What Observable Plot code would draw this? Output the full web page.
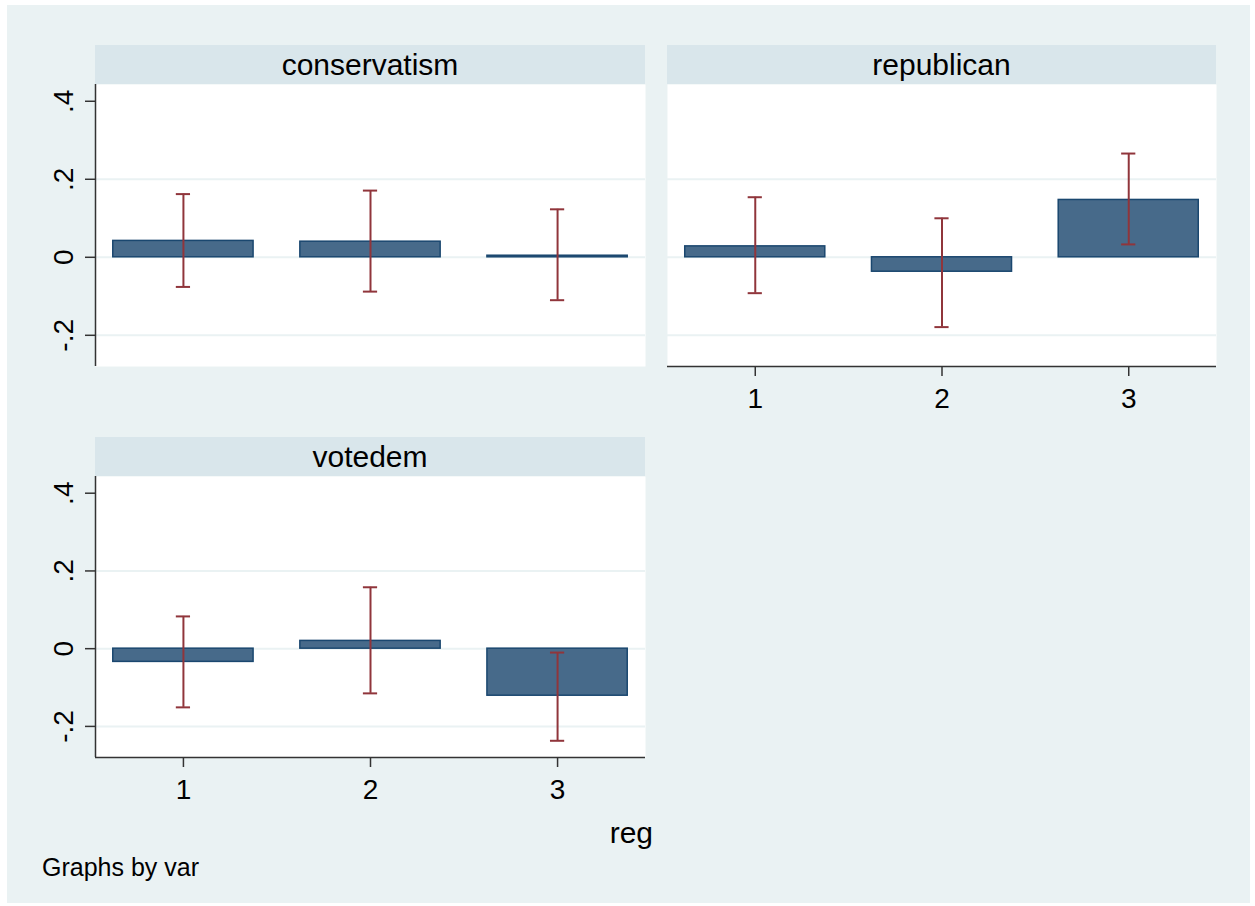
<!DOCTYPE html>
<html><head><meta charset="utf-8">
<script src="https://cdn.jsdelivr.net/npm/d3@7"></script>
<script src="https://cdn.jsdelivr.net/npm/@observablehq/plot@0.6"></script>
<style>
body{margin:0;background:#fff;font-family:"Liberation Sans",Arial,sans-serif;}
#wrap{position:relative;width:1255px;height:906px;overflow:hidden;background:#fff}
#bg{position:absolute;left:7px;top:5px;width:1243px;height:898px;background:#EAF2F3}
.hdr{position:absolute;height:39px;line-height:39px;background:#D9E6EB;text-align:center;font-size:30px;color:#000;white-space:nowrap}
.panel{position:absolute}
.lbl{position:absolute;color:#000;white-space:nowrap;line-height:1}
</style></head><body>
<div id="wrap"><div id="bg"></div></div>
<script>
// ---- data ----
const vars = ["conservatism", "republican", "votedem"];
const regs = [1, 2, 3];
const conservatismB  = [0.042, 0.040, 0.004];
const conservatismLo = [-0.076, -0.088, -0.110];
const conservatismHi = [0.162, 0.171, 0.123];
const republicanB  = [0.028, -0.037, 0.147];
const republicanLo = [-0.092, -0.179, 0.033];
const republicanHi = [0.154, 0.100, 0.266];
const votedemB  = [-0.034, 0.020, -0.121];
const votedemLo = [-0.151, -0.115, -0.237];
const votedemHi = [0.083, 0.158, -0.010];
const yTicks = [-0.2, 0, 0.2, 0.4];
const yTickLabels = ["-.2", "0", ".2", ".4"];
const yGrid = [-0.2, 0, 0.2];
const xLabel = "reg";
const noteText = "Graphs by var";

const series = {
  conservatism: [conservatismB, conservatismLo, conservatismHi],
  republican: [republicanB, republicanLo, republicanHi],
  votedem: [votedemB, votedemLo, votedemHi]
};
function rows(v) {
  const [b, lo, hi] = series[v];
  return regs.map((r, i) => ({reg: r, b: b[i], lo: lo[i], hi: hi[i]}));
}

const xDomain = [0.53, 3.47];
const yDomain = [-0.28, 0.443];
const halfBar = 0.375, halfCap = 0.038;
const wrap = document.getElementById("wrap");

function panel(v, L, T, W, H, showY, showX) {
  const mL = showY ? 60 : 5, mR = 5, mT = 5, mB = showX ? 60 : 5;
  const data = rows(v);
  const marks = [
    Plot.frame({fill: "white", stroke: "none"}),
    Plot.ruleY(yGrid, {stroke: "#EAF2F3", strokeWidth: 2}),
    Plot.rectY(data, {x1: d => d.reg - halfBar, x2: d => d.reg + halfBar, y1: () => 0, y2: "b",
      fill: "#476a8a", stroke: "#1a476f", strokeWidth: 1.5}),
    Plot.ruleX(data, {x: "reg", y1: "lo", y2: "hi", stroke: "#90353b", strokeWidth: 2}),
    Plot.ruleY(data, {y: "lo", x1: d => d.reg - halfCap, x2: d => d.reg + halfCap, stroke: "#90353b", strokeWidth: 2}),
    Plot.ruleY(data, {y: "hi", x1: d => d.reg - halfCap, x2: d => d.reg + halfCap, stroke: "#90353b", strokeWidth: 2})
  ];
  if (showY) {
    marks.push(Plot.ruleX([xDomain[0]], {stroke: "#333", strokeWidth: 1.5}));
    marks.push(Plot.axisY({ticks: yTicks, tickSize: 10, tickRotate: -90, tickPadding: 13, label: null,
      tickFormat: d => yTickLabels[yTicks.indexOf(d)], stroke: "#333", strokeWidth: 1.5}));
  }
  if (showX) {
    marks.push(Plot.ruleY([yDomain[0]], {stroke: "#333", strokeWidth: 1.5}));
    marks.push(Plot.axisX({ticks: regs, tickSize: 10, tickPadding: 12, label: null, tickFormat: d => String(d),
      stroke: "#333", strokeWidth: 1.5}));
  }
  const svg = Plot.plot({
    width: W + mL + mR, height: H + mT + mB,
    marginLeft: mL, marginRight: mR, marginTop: mT, marginBottom: mB,
    x: {domain: xDomain, axis: null},
    y: {domain: yDomain, axis: null},
    style: {background: "transparent", fontSize: "28px", fontFamily: "'Liberation Sans', Arial, sans-serif", color: "#000", overflow: "visible"},
    marks
  });
  svg.classList.add("panel");
  svg.style.left = (L - mL) + "px";
  svg.style.top = (T - mT) + "px";
  wrap.appendChild(svg);
  const h = document.createElement("div");
  h.className = "hdr";
  h.style.left = L + "px"; h.style.top = (T - 39) + "px"; h.style.width = W + "px";
  h.textContent = v;
  wrap.appendChild(h);
}

panel(vars[0], 95, 84, 550, 282, true, false);
panel(vars[1], 667, 84, 549, 282, false, true);
panel(vars[2], 95, 476, 550, 281, true, true);

const r = document.createElement("div");
r.className = "lbl"; r.style.fontSize = "30px"; r.style.right = (1255 - 653) + "px"; r.style.top = "818px";
r.textContent = xLabel; wrap.appendChild(r);
const n = document.createElement("div");
n.className = "lbl"; n.style.fontSize = "25px"; n.style.left = "42px"; n.style.top = "855px";
n.textContent = noteText; wrap.appendChild(n);
</script>
</body></html>
